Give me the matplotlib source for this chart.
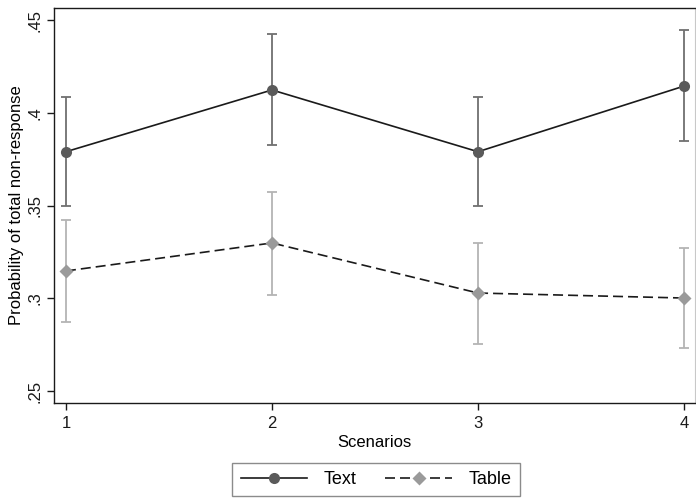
import matplotlib
matplotlib.use("Agg")
import matplotlib.pyplot as plt
from matplotlib.lines import Line2D

plt.rcParams['font.family'] = ['Liberation Sans', 'DejaVu Sans']

scenarios = [1, 2, 3, 4]
text_p = [0.379, 0.4123, 0.379, 0.4144]
text_lo = [0.3497, 0.3826, 0.3500, 0.3848]
text_hi = [0.4085, 0.4425, 0.4085, 0.4446]
table_p = [0.3147, 0.3298, 0.3028, 0.3001]
table_lo = [0.2872, 0.3018, 0.2753, 0.2732]
table_hi = [0.3422, 0.3573, 0.3298, 0.3271]
yticks = [0.25, 0.3, 0.35, 0.4, 0.45]
ylabels = ['.25', '.3', '.35', '.4', '.45']

fig = plt.figure(figsize=(6.96, 4.98), dpi=100)
ax = fig.add_axes([54/696, 1-403/498, 641/696, 395/498])

# confidence intervals
ax.errorbar(scenarios, text_p,
            yerr=[[p-l for p, l in zip(text_p, text_lo)], [h-p for p, h in zip(text_p, text_hi)]],
            fmt='none', ecolor='#707070', elinewidth=1.3, capsize=3.5, capthick=1.3, zorder=2)
ax.errorbar(scenarios, table_p,
            yerr=[[p-l for p, l in zip(table_p, table_lo)], [h-p for p, h in zip(table_p, table_hi)]],
            fmt='none', ecolor='#b4b4b4', elinewidth=1.3, capsize=3.5, capthick=1.3, zorder=2)

# lines
ax.plot(scenarios, text_p, color='#1a1a1a', lw=1.2, zorder=3)
ax.plot(scenarios, table_p, color='#1a1a1a', lw=1.2, ls=(0, (6, 3)), zorder=3)
ax.plot(scenarios, text_p, 'o', color='#5a5a5a', ms=8, mec='none', zorder=4)
ax.plot(scenarios, table_p, 'D', color='#9a9a9a', ms=7, mec='none', zorder=4)

ax.set_xlim(0.942, 4.053)
ax.set_ylim(0.2435, 0.4565)
ax.set_xticks(scenarios)
ax.set_yticks(yticks)
ax.set_yticklabels(ylabels, rotation=90, va='center')
ax.tick_params(axis='both', direction='out', length=5, width=1, labelsize=12, colors='#1a1a1a')
ax.tick_params(axis='y', pad=3)
ax.tick_params(axis='x', pad=4)

for s in ['left', 'bottom', 'top']:
    ax.spines[s].set_color('#1a1a1a')
    ax.spines[s].set_linewidth(1)
ax.spines['right'].set_color('#c8c8c8')

ax.set_xlabel('Scenarios', fontsize=12, labelpad=3)
ax.set_ylabel('Probability of total non-response', fontsize=12, labelpad=3)

handles = [
    Line2D([], [], color='#1a1a1a', lw=1.2, marker='o', ms=8, mfc='#5a5a5a', mec='none'),
    Line2D([], [], color='#1a1a1a', lw=1.2, ls=(0, (6, 3)), marker='D', ms=7, mfc='#9a9a9a', mec='none'),
]
leg = fig.legend(handles, ['Text', 'Table'], loc='lower center', bbox_to_anchor=(376/696, 0.0),
                 ncol=2, frameon=True, fancybox=False, edgecolor='#6e6e6e', fontsize=13,
                 handlelength=3.7, handletextpad=0.9, columnspacing=1.6, borderpad=0.45,
                 borderaxespad=0.1)
leg.get_frame().set_linewidth(1)

fig.savefig('out.png', dpi=100)
